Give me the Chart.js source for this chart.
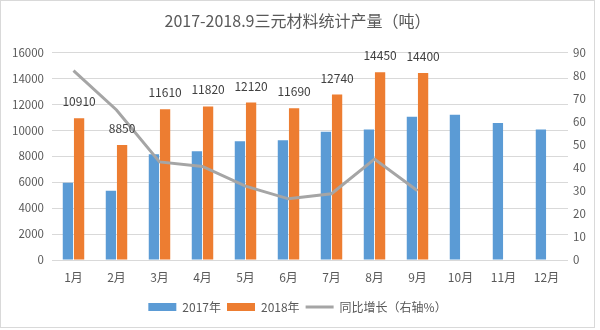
<!DOCTYPE html>
<html>
<head>
<meta charset="utf-8">
<script src="https://cdn.jsdelivr.net/npm/chart.js@4/dist/chart.umd.min.js"></script>
<style>
html,body{margin:0;padding:0;background:#fff;}
#wrap{width:600px;height:330px;}
</style>
</head>
<body>
<div id="wrap"><canvas id="c" width="600" height="330"></canvas></div>
<script>
const categories = ['1月','2月','3月','4月','5月','6月','7月','8月','9月','10月','11月','12月'];
const output2017 = [5950, 5330, 8150, 8380, 9150, 9230, 9870, 10050, 11030, 11180, 10540, 10050];
const output2018 = [10910, 8850, 11610, 11820, 12120, 11690, 12740, 14450, 14400];
const yoyGrowth = [82, 65, 42.5, 40.5, 32, 26.5, 28.7, 43.7, 30];
const leftTicks = [0, 2000, 4000, 6000, 8000, 10000, 12000, 14000, 16000];
const rightTicks = [0, 10, 20, 30, 40, 50, 60, 70, 80, 90];
const seriesNames = ['2017年', '2018年', '同比增长（右轴%）'];
const chartTitle = '2017-2018.9三元材料统计产量（吨）';

const FONT = '"Noto Sans CJK SC", "Noto Sans", sans-serif';
const TXT = '#595959';

const valueLabels = {
  id: 'valueLabels',
  afterDatasetsDraw(chart) {
    const meta = chart.getDatasetMeta(1);
    const ctx = chart.ctx;
    ctx.save();
    ctx.font = '12px ' + FONT;
    ctx.fillStyle = '#404040';
    ctx.textAlign = 'center';
    ctx.textBaseline = 'alphabetic';
    meta.data.forEach((el, i) => {
      const v = chart.data.datasets[1].data[i];
      if (v == null) return;
      ctx.fillText(String(v), el.x, el.y - 12);
    });
    ctx.restore();
  }
};

const frame = {
  id: 'frame',
  beforeDraw(chart) {
    const ctx = chart.ctx;
    ctx.save();
    ctx.fillStyle = '#fff';
    ctx.fillRect(0, 0, chart.width, chart.height);
    ctx.strokeStyle = '#d9d9d9';
    ctx.lineWidth = 1;
    ctx.strokeRect(0.5, 0.5, 594, 327);
    ctx.restore();
  }
};

new Chart(document.getElementById('c'), {
  type: 'bar',
  data: {
    labels: categories,
    datasets: [
      {
        type: 'bar', label: seriesNames[0], data: output2017,
        backgroundColor: '#5b9bd5', yAxisID: 'y', order: 1,
        categoryPercentage: 0.52, barPercentage: 0.92, pointStyle: 'rect'
      },
      {
        type: 'bar', label: seriesNames[1], data: output2018,
        backgroundColor: '#ed7d31', yAxisID: 'y', order: 1,
        categoryPercentage: 0.52, barPercentage: 0.92, pointStyle: 'rect'
      },
      {
        type: 'line', label: seriesNames[2], data: yoyGrowth,
        borderColor: '#a5a5a5', backgroundColor: '#a5a5a5', borderWidth: 3,
        pointRadius: 0, tension: 0, yAxisID: 'y1', order: 0, pointStyle: 'line'
      }
    ]
  },
  options: {
    responsive: false,
    animation: false,
    devicePixelRatio: 1,
    layout: { padding: { left: 0, right: 5, top: 0, bottom: 7 } },
    plugins: {
      title: {
        display: true, text: chartTitle, color: TXT,
        font: { family: FONT, size: 16, weight: 'normal' },
        padding: { top: 11, bottom: 22 }
      },
      legend: {
        position: 'bottom',
        labels: {
          usePointStyle: true, pointStyleWidth: 28, boxHeight: 8,
          padding: 6, color: TXT,
          font: { family: FONT, size: 12 },
          sort: (a, b) => a.datasetIndex - b.datasetIndex
        }
      },
      tooltip: { enabled: false }
    },
    scales: {
      x: {
        grid: { display: false, drawTicks: false },
        border: { display: false },
        ticks: { color: TXT, font: { family: FONT, size: 12 }, padding: 10, maxRotation: 0, autoSkip: false },
        afterFit(s) { s.height = 35; }
      },
      y: {
        position: 'left', min: 0, max: 16000,
        afterBuildTicks(s) { s.ticks = leftTicks.map(v => ({ value: v })); },
        grid: { color: '#d9d9d9', drawTicks: false, lineWidth: 1 },
        border: { display: false },
        ticks: { color: TXT, font: { family: FONT, size: 11.5 }, padding: 8, callback: v => String(v) },
        afterFit(s) { s.width = 52; }
      },
      y1: {
        position: 'right', min: 0, max: 90,
        afterBuildTicks(s) { s.ticks = rightTicks.map(v => ({ value: v })); },
        grid: { display: false, drawTicks: false },
        border: { display: false },
        ticks: { color: TXT, font: { family: FONT, size: 11.5 }, padding: 5, callback: v => String(v) },
        afterFit(s) { s.width = 27; }
      }
    }
  },
  plugins: [frame, valueLabels]
});
</script>
</body>
</html>
